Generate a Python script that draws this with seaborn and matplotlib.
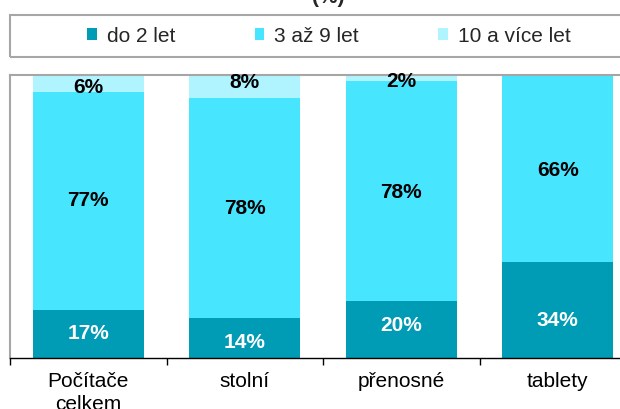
import numpy as np
import pandas as pd
import matplotlib
matplotlib.use("Agg")
import matplotlib.pyplot as plt
import seaborn as sns
from matplotlib.patches import Rectangle, Patch
from matplotlib.transforms import offset_copy

categories = ["Počítače\ncelkem", "stolní", "přenosné", "tablety"]
series_names = ["do 2 let", "3 až 9 let", "10 a více let"]
do_2 = [17, 14, 20, 34]
az_9 = [77, 78, 78, 66]
vice_10 = [6, 8, 2, 0]
colors = ["#009BB4", "#48E5FF", "#B0F4FF"]

# small manual nudges of the value labels (pixels, positive = down), as in the original
label_nudge = [[0, 0, 4], [4, 0, -4], [-4, 1, 4], [11, 2, 0]]

sns.set_theme(style="white")
plt.rcParams["font.family"] = ["Liberation Sans", "DejaVu Sans"]

df = pd.DataFrame({"cat": categories, "a": do_2, "b": az_9, "c": vice_10})
df["ab"] = df["a"] + df["b"]
df["abc"] = df["ab"] + df["c"]

fig = plt.figure(figsize=(6.2, 4.09), dpi=100)
ax = fig.add_axes([10 / 620, 1 - 358 / 409, 626 / 620, 283 / 409])

# stacked bars drawn as overlapping cumulative bars
for col, color in zip(["abc", "ab", "a"], colors[::-1]):
    sns.barplot(data=df, x="cat", y=col, color=color, width=0.71,
                saturation=1, ax=ax, edgecolor="none", linewidth=0)

ax.set_ylim(0, 100)
ax.set_xlim(-0.5, 3.5)
ax.set_xlabel("")
ax.set_ylabel("")
ax.set_yticks([])

# labels in the middle of each segment
for i in range(len(categories)):
    segs = [(0, do_2[i], "white"), (do_2[i], az_9[i], "black"),
            (do_2[i] + az_9[i], vice_10[i], "black")]
    for k, (start, val, tc) in enumerate(segs):
        if val <= 0:
            continue
        tr = offset_copy(ax.transData, fig=fig, x=0, y=-label_nudge[i][k],
                         units="dots")
        ax.text(i, start + val / 2, f"{val}%", ha="center", va="center",
                fontsize=15, fontweight="bold", color=tc, transform=tr)

ax.set_xticks(range(len(categories)))
ax.set_xticklabels(categories, fontsize=15, linespacing=1.25)
ax.tick_params(axis="x", which="major", length=0, pad=10, colors="black")
ax.set_xticks(np.arange(-0.5, 4, 1), minor=True)
ax.tick_params(axis="x", which="minor", length=5, width=1, color="black",
               direction="out", bottom=True)

for s in ["left", "top", "right"]:
    ax.spines[s].set_color("#A6A6A6")
    ax.spines[s].set_linewidth(1.5)
ax.spines["bottom"].set_color("black")
ax.spines["bottom"].set_linewidth(1)

# legend box
fig.patches.append(Rectangle((10 / 620, 1 - 57 / 409), 640 / 620, 42 / 409,
                             transform=fig.transFigure, fill=False,
                             edgecolor="#A6A6A6", linewidth=1.5))
handles = [Patch(facecolor=c, edgecolor="none") for c in colors]
fig.legend(handles, series_names, loc="center", ncol=3,
           bbox_to_anchor=(329 / 620, 1 - 36 / 409), frameon=False,
           fontsize=15, handlelength=0.45, handleheight=0.45,
           handletextpad=0.5, columnspacing=3.8, borderpad=0)

fig.text(328 / 620, 1 - 3 / 409, "(%)", ha="center", va="baseline",
         fontsize=15, fontweight="bold")

fig.savefig("out.png", dpi=100)
